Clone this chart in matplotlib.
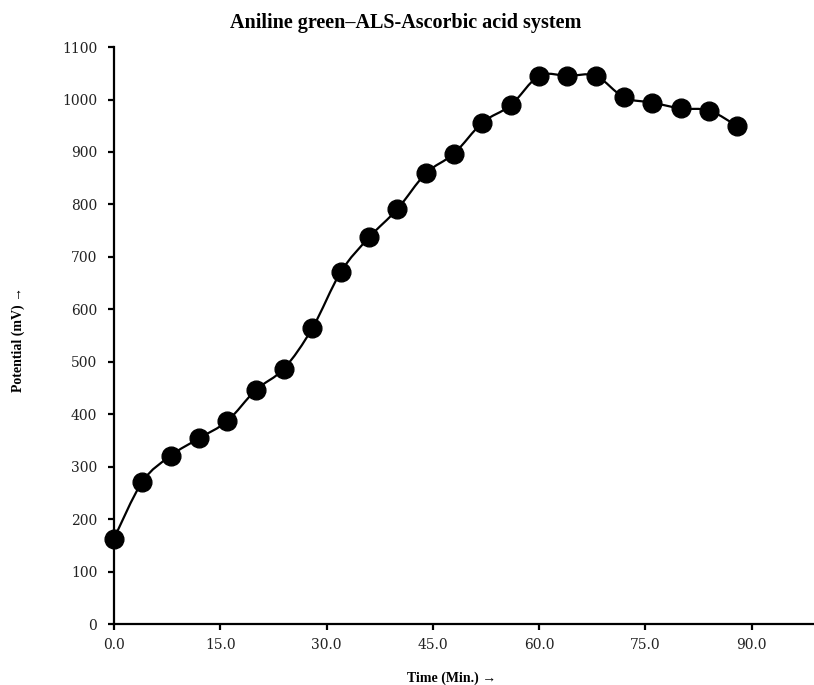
import numpy as np
import matplotlib
matplotlib.use("Agg")
import matplotlib.pyplot as plt
from matplotlib.path import Path
from matplotlib.patches import PathPatch

time_min = [0, 4, 8, 12, 16, 20, 24, 28, 32, 36, 40, 44, 48, 52, 56, 60, 64, 68, 72, 76, 80, 84, 88]
potential_mv = [163, 271, 321, 354, 387, 446, 487, 564, 671, 737, 791, 859, 897, 956, 989,
                1045, 1045, 1045, 1004, 994, 983, 979, 949]
x_ticks = [0, 15, 30, 45, 60, 75, 90]
x_tick_labels = ["0.0", "15.0", "30.0", "45.0", "60.0", "75.0", "90.0"]
y_ticks = list(range(0, 1101, 100))

title = "Aniline green\u2013ALS-Ascorbic acid system"
xlabel = "Time (Min.) \u2192"
ylabel = "Potential (mV) \u2192"

plt.rcParams["font.family"] = ["DejaVu Serif"]
serif_bold = ["Liberation Serif", "DejaVu Serif"]

fig = plt.figure(figsize=(8.14, 6.85), dpi=100)
ax = fig.add_axes([0.140, 0.089, 0.86, 0.8423])

# Smoothed line (Excel-like, Catmull-Rom converted to cubic Bezier)
x = np.array(time_min, dtype=float)
y = np.array(potential_mv, dtype=float)
verts = [(x[0], y[0])]
codes = [Path.MOVETO]
t = 1.0 / 6.0
n = len(x)
for i in range(n - 1):
    p0 = (x[max(i - 1, 0)], y[max(i - 1, 0)])
    p1 = (x[i], y[i])
    p2 = (x[i + 1], y[i + 1])
    p3 = (x[min(i + 2, n - 1)], y[min(i + 2, n - 1)])
    c1 = (p1[0] + (p2[0] - p0[0]) * t, p1[1] + (p2[1] - p0[1]) * t)
    c2 = (p2[0] - (p3[0] - p1[0]) * t, p2[1] - (p3[1] - p1[1]) * t)
    verts += [c1, c2, p2]
    codes += [Path.CURVE4, Path.CURVE4, Path.CURVE4]
ax.add_patch(PathPatch(Path(verts, codes), facecolor="none", edgecolor="black", lw=1.6, zorder=2))
ax.plot(time_min, potential_mv, linestyle="none", marker="o", markersize=13.5,
        color="black", zorder=3, clip_on=False)

ax.set_xlim(0, 98.8)
ax.set_ylim(0, 1100)
ax.set_xticks(x_ticks)
ax.set_xticklabels(x_tick_labels)
ax.set_yticks(y_ticks)

for s in ["top", "right"]:
    ax.spines[s].set_visible(False)
for s in ["left", "bottom"]:
    ax.spines[s].set_linewidth(1.6)
    ax.spines[s].set_color("black")
ax.tick_params(axis="both", direction="out", length=4, width=1.6, colors="black",
               labelsize=10, labelcolor="#222222")
ax.tick_params(axis="y", pad=8)
ax.tick_params(axis="x", pad=6)

fig.text(0.499, 0.966, title, ha="center", va="center",
         family=serif_bold, fontweight="bold", fontsize=14.5)
fig.text(0.555, 0.0105, xlabel, ha="center", va="center", family=serif_bold,
         fontweight="bold", fontsize=10)
fig.text(0.023, 0.505, ylabel, ha="center", va="center", rotation=90, family=serif_bold,
         fontweight="bold", fontsize=10)

fig.savefig("out.png", dpi=100)
